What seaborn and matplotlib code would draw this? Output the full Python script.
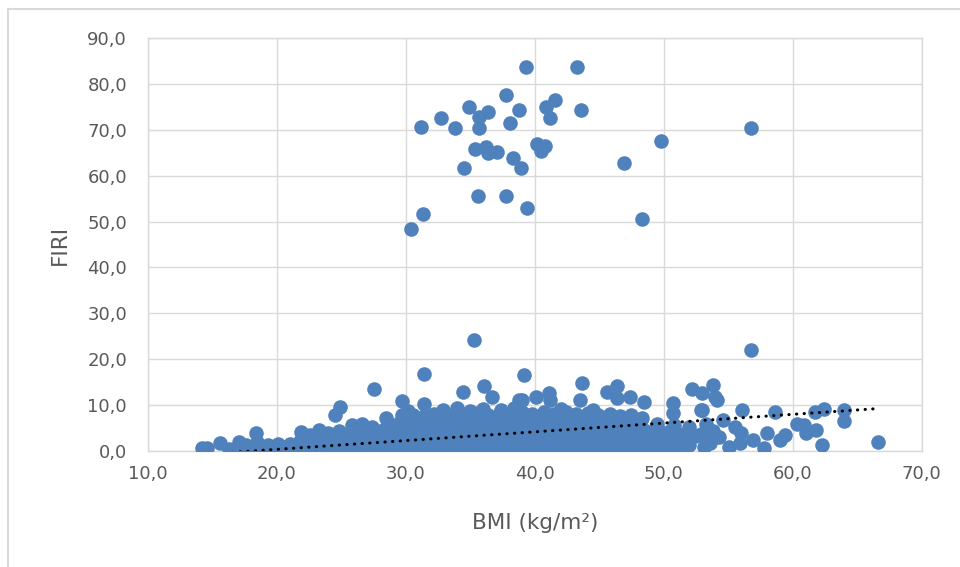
import pandas as pd
import numpy as np
import seaborn as sns
import matplotlib.pyplot as plt
from matplotlib.lines import Line2D
from matplotlib.ticker import FuncFormatter, MultipleLocator

# (BMI, FIRI) pairs
high_outliers = [
    (30.4, 48.4), (31.3, 51.6), (31.2, 70.6), (32.7, 72.6), (33.8, 70.4), (34.9, 75.0),
    (34.5, 61.7), (35.4, 65.8), (35.6, 55.6), (35.7, 72.8), (35.7, 70.4), (36.2, 66.2),
    (36.4, 64.9), (36.4, 73.9), (37.1, 65.2), (37.8, 77.6), (37.8, 55.6), (38.1, 71.5),
    (38.3, 63.8), (38.8, 74.3), (38.9, 61.7), (39.3, 83.7), (39.4, 53.0), (40.2, 66.9),
    (40.5, 65.4), (40.8, 66.5), (40.9, 75.0), (41.6, 76.5), (41.2, 72.6), (43.3, 83.7),
    (43.6, 74.3), (46.9, 62.8), (49.8, 67.6), (48.3, 50.6), (56.8, 70.4),
]

mid_outliers = [
    (27.5, 13.5), (29.7, 10.9), (31.4, 16.8), (34.4, 12.9), (35.3, 24.2), (36.1, 14.2),
    (36.7, 11.8), (38.8, 11.1), (39.2, 16.6), (43.7, 14.8), (46.4, 14.2), (52.2, 13.5),
    (53.8, 14.4), (56.8, 22.0),
]

upper_edge = [
    (30.2, 8.8), (31.4, 10.2), (32.9, 8.9), (34.0, 9.3), (35.0, 8.7), (36.0, 9.1),
    (37.4, 8.9), (38.4, 9.4), (39.0, 11.1), (40.1, 11.8), (41.1, 12.6), (41.2, 11.1),
    (42.0, 9.2), (43.5, 11.1), (44.5, 9.0), (45.6, 12.9), (46.4, 11.5), (47.4, 11.8),
    (48.5, 10.7), (50.7, 10.5), (50.7, 8.3), (52.9, 8.9), (53.0, 8.9), (54.0, 11.8),
    (53.0, 12.6), (54.1, 11.1), (56.1, 8.9), (58.6, 8.5), (60.3, 5.9), (60.9, 5.7),
    (61.7, 8.5), (62.4, 9.1), (64.0, 8.9), (64.0, 6.5), (66.6, 2.0),
]

band_1 = [
    (14.2, 0.7), (14.6, 0.7), (16.3, 0.4), (16.4, 0.0), (17.2, 0.9), (18.0, 0.3), (18.9, 0.6),
    (19.7, 0.2), (20.6, 0.8), (21.4, 0.3), (22.3, 0.5), (22.7, 0.1), (23.1, 0.7), (24.0, 0.2),
    (24.8, 0.6), (25.7, 0.3), (26.5, 0.8), (27.4, 0.2), (28.2, 0.5), (29.1, 0.3), (29.9, 0.7),
    (30.8, 0.1), (31.6, 0.5), (32.5, 0.2), (33.3, 0.6), (34.2, 0.3), (35.0, 0.1), (35.9, 0.5),
    (36.7, 0.2), (37.6, 0.6), (38.4, 0.3), (39.3, 0.4), (40.1, 0.2), (41.0, 0.7), (41.8, 0.3),
    (42.7, 0.5), (43.5, 0.6), (44.4, 0.2), (45.2, 0.8), (46.1, 0.5), (46.9, 0.9), (47.8, 0.6),
    (48.6, 1.0), (49.5, 0.7), (50.3, 1.1), (51.2, 0.6), (52.0, 1.2), (53.1, 0.9), (55.1, 0.9),
    (57.8, 0.7), (62.3, 1.3),
]

band_2 = [
    (15.6, 1.7), (17.1, 2.0), (17.6, 1.4), (18.5, 1.9), (19.3, 1.3), (20.1, 1.6), (21.0, 1.5),
    (21.8, 2.2), (22.7, 1.9), (23.5, 2.3), (24.4, 2.0), (25.2, 2.4), (26.1, 2.1), (26.9, 2.5),
    (27.8, 2.2), (28.6, 2.4), (29.5, 2.1), (30.3, 2.6), (31.2, 2.2), (32.0, 2.5), (32.9, 2.1),
    (33.7, 2.6), (34.6, 2.3), (35.4, 2.5), (36.3, 2.2), (37.1, 2.7), (38.0, 2.3), (38.8, 2.6),
    (39.7, 2.2), (40.5, 2.7), (41.4, 2.4), (42.2, 2.6), (43.1, 2.3), (43.9, 2.7), (44.8, 2.4),
    (45.6, 2.8), (46.5, 2.5), (47.3, 2.9), (48.2, 2.6), (49.0, 3.0), (49.9, 2.7), (50.7, 3.1),
    (51.6, 2.8), (52.4, 3.2), (53.3, 2.5), (53.6, 1.7), (54.3, 3.1), (55.9, 1.7), (56.9, 2.4),
    (59.0, 2.4),
]

band_3 = [
    (18.4, 3.9), (21.9, 4.1), (22.6, 3.4), (23.3, 4.6), (24.0, 3.9), (24.8, 4.3), (25.7, 3.9),
    (26.5, 4.4), (27.4, 4.0), (28.2, 4.5), (29.1, 4.1), (29.9, 4.6), (30.8, 4.2), (31.6, 4.5),
    (32.5, 4.1), (33.3, 4.6), (34.2, 4.2), (35.0, 4.5), (35.9, 4.1), (36.7, 4.6), (37.6, 4.2),
    (38.4, 4.5), (39.3, 4.1), (40.1, 4.6), (41.0, 4.2), (41.8, 4.5), (42.7, 4.1), (43.5, 4.6),
    (44.4, 4.2), (45.2, 4.5), (46.1, 4.1), (46.9, 4.4), (47.8, 4.0), (48.6, 4.3), (49.5, 3.9),
    (50.3, 4.2), (51.2, 3.8), (52.0, 4.1), (52.9, 3.7), (53.8, 4.3), (56.0, 3.9), (58.0, 3.9),
    (59.4, 3.5), (61.0, 3.9), (61.8, 4.6),
]

band_4 = [
    (25.8, 5.7), (26.6, 5.9), (27.4, 5.2), (28.6, 6.0), (29.5, 6.2), (30.3, 5.9), (31.2, 6.3),
    (32.0, 6.0), (32.9, 6.4), (33.7, 6.1), (34.6, 6.5), (35.4, 6.1), (36.3, 6.4), (37.1, 6.0),
    (38.0, 6.5), (38.8, 6.2), (39.7, 6.6), (40.5, 6.1), (41.4, 6.5), (42.2, 6.2), (43.1, 6.6),
    (43.9, 6.1), (44.8, 6.4), (45.6, 6.0), (46.5, 6.2), (47.3, 5.8), (48.2, 6.0), (49.5, 5.8),
    (50.8, 5.6), (52.0, 5.3), (53.3, 5.8), (54.6, 6.8), (55.5, 5.2),
]

band_5 = [
    (24.5, 7.8), (24.9, 9.6), (28.5, 7.2), (29.7, 7.8), (30.6, 7.9), (31.4, 7.6), (32.2, 8.0),
    (33.0, 7.7), (33.9, 8.2), (34.7, 7.8), (35.6, 8.3), (36.4, 7.9), (37.3, 8.2), (38.1, 7.8),
    (39.0, 8.4), (39.8, 8.0), (40.7, 8.5), (41.5, 8.1), (42.4, 8.4), (43.2, 8.0), (44.1, 8.3),
    (44.9, 7.9), (45.8, 8.1), (46.6, 7.6), (47.5, 7.8), (48.3, 7.2),
]

# linear trendline
trend_slope = 0.1906
trend_intercept = -3.45

all_points = band_1 + band_2 + band_3 + band_4 + band_5 + upper_edge + mid_outliers + high_outliers
df = pd.DataFrame(all_points, columns=['BMI', 'FIRI'])

blue = '#4F81BD'
grey = '#D9D9D9'
text_grey = '#595959'

sns.set_theme(style='white')
plt.rcParams['font.family'] = ['DejaVu Sans']

fig = plt.figure(figsize=(9.6, 5.67), dpi=100)
ax = fig.add_axes([0.154, 0.2046, 0.806, 0.7284])

sns.scatterplot(data=df, x='BMI', y='FIRI', ax=ax, s=110, color=blue,
                edgecolor=blue, linewidth=0, zorder=3)
# no white rims round the markers, like the Excel original
for coll in ax.collections:
    coll.set_edgecolors('face')
    coll.set_linewidths(0)

trend_x = np.array([df['BMI'].min(), df['BMI'].max()])
trend_y = trend_intercept + trend_slope * trend_x
ax.plot(trend_x, trend_y, color='black', linewidth=2.2, linestyle=(0, (0.1, 2.4)),
        dash_capstyle='round', zorder=4)

ax.set_xlim(10, 70)
ax.set_ylim(0, 90)
ax.xaxis.set_major_locator(MultipleLocator(10))
ax.yaxis.set_major_locator(MultipleLocator(10))
fmt = FuncFormatter(lambda v, pos: f'{v:.1f}'.replace('.', ','))
ax.xaxis.set_major_formatter(fmt)
ax.yaxis.set_major_formatter(fmt)

ax.grid(True, color=grey, linewidth=1.0, zorder=0)
ax.set_axisbelow(True)
for sp in ax.spines.values():
    sp.set_color(grey)
    sp.set_linewidth(1.0)

ax.tick_params(axis='both', length=0, labelsize=13, labelcolor=text_grey)
ax.tick_params(axis='y', pad=15)
ax.tick_params(axis='x', pad=10)

ax.set_xlabel('BMI (kg/m²)', fontsize=15.5, color=text_grey)
ax.set_ylabel('FIRI', fontsize=15.5, color=text_grey)
ax.xaxis.set_label_coords(0.5, -0.174)
ax.xaxis.label.set_va('center')
ax.yaxis.set_label_coords(-0.114, 0.5)
ax.yaxis.label.set_va('center')

# outer chart frame (runs off the right and bottom edges)
fig.add_artist(Line2D([0.0083, 1.0], [0.984, 0.984], color=grey, linewidth=1.5,
                      transform=fig.transFigure))
fig.add_artist(Line2D([0.0083, 0.0083], [0.0, 0.984], color=grey, linewidth=1.5,
                      transform=fig.transFigure))

fig.savefig('out.png', dpi=100)
